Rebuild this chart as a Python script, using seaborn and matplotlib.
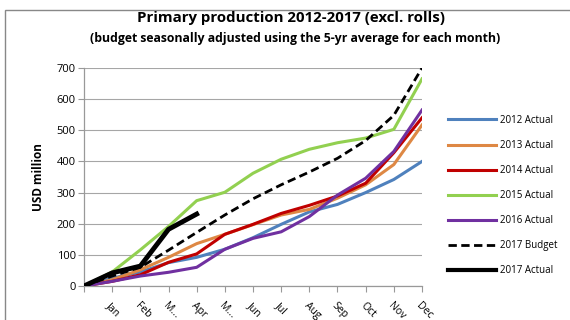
import matplotlib
matplotlib.use("Agg")
import matplotlib.pyplot as plt
import seaborn as sns
import pandas as pd
from matplotlib.patches import Rectangle

months = ["", "Jan", "Feb", "M...", "Apr", "M...", "Jun", "Jul", "Aug", "Sep", "Oct", "Nov", "Dec"]

a2012 = [0, 25, 45, 75, 92, 118, 155, 198, 238, 262, 300, 342, 400]
a2013 = [0, 20, 52, 92, 136, 166, 197, 228, 246, 282, 325, 390, 517]
a2014 = [0, 15, 36, 76, 103, 166, 198, 233, 259, 289, 330, 428, 540]
a2015 = [0, 45, 116, 191, 274, 301, 362, 407, 439, 460, 475, 503, 665]
a2016 = [0, 15, 32, 44, 60, 118, 153, 174, 223, 292, 346, 432, 565]
b2017 = [0, 32, 60, 115, 172, 228, 280, 325, 366, 410, 467, 548, 700]
a2017 = [0, 42, 64, 182, 231]

series = [
    ("2012 Actual", a2012, "#4F81BD", "-", 2.2),
    ("2013 Actual", a2013, "#DE8844", "-", 2.2),
    ("2014 Actual", a2014, "#C00000", "-", 2.2),
    ("2015 Actual", a2015, "#92D050", "-", 2.2),
    ("2016 Actual", a2016, "#7030A0", "-", 2.2),
    ("2017 Budget", b2017, "#000000", (0, (3, 1.6)), 2.0),
    ("2017 Actual", a2017, "#000000", "-", 3.5),
]

plt.rcParams['font.family'] = ['Open Sans', 'DejaVu Sans']
fig = plt.figure(figsize=(5.7, 3.2), dpi=100)
ax = fig.add_axes([84/570, 1-286/320, (422-84)/570, (286-68)/320])

for name, vals, col, ls, lw in series:
    df = pd.DataFrame({"x": list(range(len(vals))), "y": vals})
    sns.lineplot(data=df, x="x", y="y", ax=ax, color=col, linestyle=ls,
                 linewidth=lw, label=name, zorder=3)

ax.set_xlim(0, 12)
ax.set_ylim(0, 700)
ax.set_yticks(range(0, 701, 100))
ax.set_xticks(range(0, 13))
ax.set_xticklabels(months, rotation=-45, ha="left", va="top",
                   rotation_mode="anchor", fontsize=7.5)
ax.tick_params(axis="x", length=4, color="#999999", pad=6)
ax.tick_params(axis="y", length=4, color="#999999", labelsize=8, pad=2)
ax.grid(axis="y", color="#A6A6A6", linewidth=0.8, zorder=0)
ax.set_axisbelow(True)
for s in ["top", "right"]:
    ax.spines[s].set_visible(False)
for s in ["left", "bottom"]:
    ax.spines[s].set_color("#999999")
    ax.spines[s].set_linewidth(0.9)
ax.set_xlabel("")
ax.set_ylabel("USD million", fontsize=8.5, fontweight="bold", labelpad=8)

leg = ax.legend(loc="upper left", bbox_to_anchor=(1.05, 0.825), frameon=False,
                fontsize=7, handlelength=5.0, labelspacing=1.45, handletextpad=0.4)
leg.get_lines()[-1].set_linewidth(3.0)

fig.text(0.51, 0.943, "Primary production 2012-2017 (excl. rolls)",
         ha="center", va="center", fontsize=10.8, fontweight="bold")
fig.text(0.518, 0.88, "(budget seasonally adjusted using the 5-yr average for each month)",
         ha="center", va="center", fontsize=8.8, fontweight="bold")

fig.patches.append(Rectangle((5/570, -0.1), 1.2, 1 - 10/320 + 0.1,
                             transform=fig.transFigure, fill=False,
                             edgecolor="#888888", linewidth=1.0))

fig.savefig("out.png", dpi=100)
